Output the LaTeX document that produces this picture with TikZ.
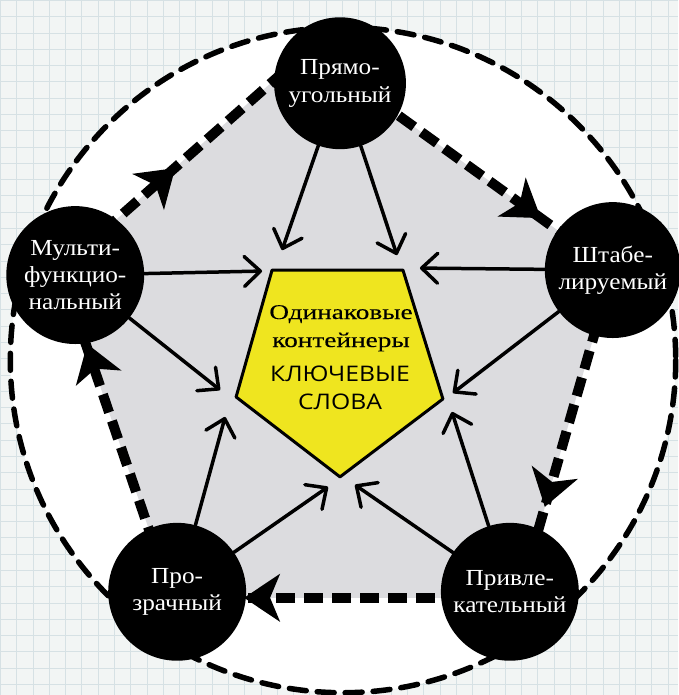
\documentclass[tikz,border=0pt]{standalone}
\usepackage{fontspec}
\setmainfont{Liberation Serif}
\newfontfamily\nodeserif[FakeStretch=1.1]{Liberation Serif}
\newfontfamily\centerserif[FakeStretch=1.3,FakeBold=0.15]{Liberation Serif}
\newfontfamily\handfont[FakeStretch=1.15]{Open Sans}
\usetikzlibrary{arrows.meta,calc}
\definecolor{gridbg}{HTML}{F2F5F4}
\definecolor{gridln}{HTML}{D6E1E4}
\definecolor{pentagray}{HTML}{DCDCDF}
\definecolor{keyyellow}{HTML}{EFE51F}
\begin{document}
\begin{tikzpicture}[x=1pt,y=-1pt,
  conc/.style={circle, fill=black, minimum size=136pt, inner sep=0pt, text=white,
    font=\nodeserif\fontsize{23}{27.5}\selectfont, align=center},
  thinarrow/.style={line width=3.5pt, line cap=round, line join=round,
    -{Straight Barb[length=16pt,width=30pt,round]}},
  bigdash/.style={line width=10pt, dash pattern=on 19pt off 9pt},
  bighead/.style={line width=10pt, -{Stealth[length=36pt,width=48pt,inset=10pt,line width=2pt]}},
  outerdash/.style={line width=5.5pt, dash pattern=on 17pt off 11pt, line cap=round},
  ctext/.style={anchor=base, inner sep=0pt, font=\centerserif\fontsize{21}{24}\selectfont},
  htext/.style={anchor=base, inner sep=0pt, font=\handfont\fontsize{21.5}{24}\selectfont},
]
% background grid
\fill[gridbg] (0,0) rectangle (678,695);
\draw[gridln, line width=0.6pt] (0,0) grid[step=16.3pt] (678,695);
\useasboundingbox (0,0) rectangle (678,695);

% outer dashed circle
\draw[outerdash, fill=white] (343,360) circle[radius=333];

% gray pentagon
\coordinate (vT) at (308,50);
\coordinate (vR) at (613,270);
\coordinate (vBR) at (519,598);
\coordinate (vBL) at (172,598);
\coordinate (vL) at (60,269);
\fill[pentagray] (vT) -- (vR) -- (vBR) -- (vBL) -- (vL) -- cycle;

% thick dashed cycle edges
\draw[bigdash] (vL) -- (vT);
\draw[bigdash] (vT) -- (vR);
\draw[bigdash] (vR) -- (vBR);
\draw[bigdash] (vBR) -- (vBL);
\draw[bigdash] (vBL) -- (vL);

% yellow pentagon
\coordinate (y1) at (272,270);
\coordinate (y2) at (403,270);
\coordinate (y3) at (443,399);
\coordinate (y4) at (340,477);
\coordinate (y5) at (236,397);
\draw[fill=keyyellow, line width=3pt, line join=round] (y1) -- (y2) -- (y3) -- (y4) -- (y5) -- cycle;

\node[ctext] (t1) at (341,319) {Одинаковые};
\node[ctext] (t2) at (341,347) {контейнеры};
\node[htext] (t3) at (340,382) {КЛЮЧЕВЫЕ};
\node[htext] (t4) at (340,410) {СЛОВА};

% circles
\node[conc, minimum size=132pt] (T) at (340,83) {Прямо-\\угольный};
\node[conc] (R) at (613,270) {Штабе-\\лируемый};
\node[conc, minimum size=138pt] (BR) at (510,592) {Привле-\\кательный};
\node[conc, minimum size=138pt] (BL) at (177,592) {Про-\\зрачный};
\node[conc, minimum size=138pt] (L) at (75,275) {Мульти-\\функцио-\\нальный};

% arrowheads of the cycle
\coordinate (hLT) at (175,168);
\coordinate (hTR) at (541,218);
\coordinate (hRB) at (545,507);
\coordinate (hBB) at (244,598);
\coordinate (hBL) at (87,344);
\draw[bighead] ($(hLT)!10pt!(vL)$) -- (hLT);
\draw[bighead] ($(hTR)!10pt!(vT)$) -- (hTR);
\draw[bighead] ($(hRB)!10pt!(vR)$) -- (hRB);
\draw[bighead] ($(hBB)!10pt!(vBR)$) -- (hBB);
\draw[bighead] ($(hBL)!10pt!(vBL)$) -- (hBL);

% arrow tips at the pentagon
\coordinate (aT1) at (282,250);
\coordinate (aT2) at (397,255);
\coordinate (aR1) at (420,268);
\coordinate (aR2) at (453,393);
\coordinate (aBR1) at (452,412);
\coordinate (aBR2) at (355,485);
\coordinate (aBL1) at (225,417);
\coordinate (aBL2) at (328,487);
\coordinate (aL1) at (262,271);
\coordinate (aL2) at (220,390);

\draw[thinarrow] (T) -- (aT1);
\draw[thinarrow] (T) -- (aT2);
\draw[thinarrow] (R) -- (aR1);
\draw[thinarrow] (R) -- (aR2);
\draw[thinarrow] (BR) -- (aBR1);
\draw[thinarrow] (BR) -- (aBR2);
\draw[thinarrow] (BL) -- (aBL1);
\draw[thinarrow] (BL) -- (aBL2);
\draw[thinarrow] (L) -- (aL1);
\draw[thinarrow] (L) -- (aL2);
\end{tikzpicture}
\end{document}
